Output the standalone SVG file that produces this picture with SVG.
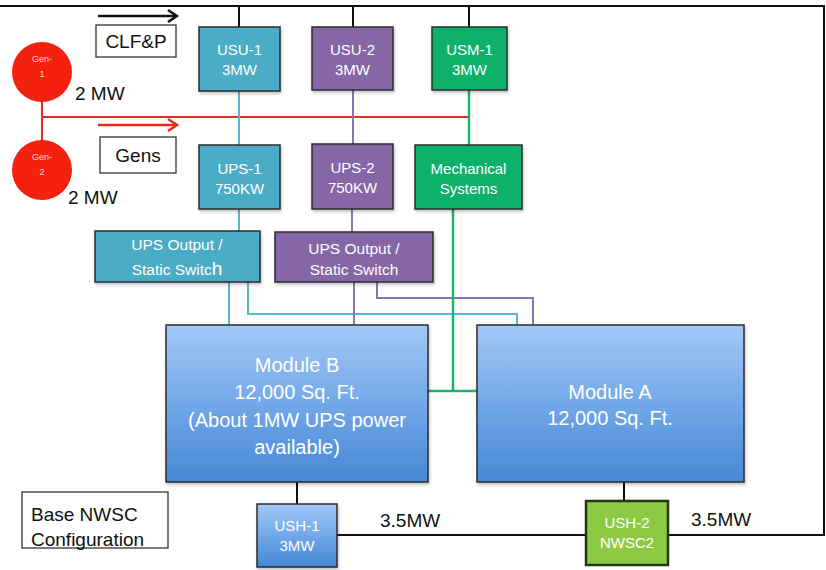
<svg xmlns="http://www.w3.org/2000/svg" width="826" height="570" viewBox="0 0 826 570">
<defs>
<linearGradient id="blueGrad" x1="0" y1="0" x2="0" y2="1">
<stop offset="0" stop-color="#a3c8f6"/>
<stop offset="0.5" stop-color="#72a8e8"/>
<stop offset="1" stop-color="#4787d4"/>
</linearGradient>
<filter id="sh" x="-10%" y="-10%" width="130%" height="130%">
<feDropShadow dx="1" dy="2" stdDeviation="1.5" flood-color="#000" flood-opacity="0.25"/>
</filter>
</defs>
<style>
.box{stroke:#2d2d2d;stroke-width:1.5;filter:url(#sh)}
.teal{fill:#4bacc6}
.purple{fill:#8566a6}
.green{fill:#0bb16a}
.mod{fill:url(#blueGrad)}
.lime{fill:#8ec944;stroke:#1f3a10;stroke-width:2.5}
.wt{fill:#ffffff;font-family:"Liberation Sans",Arial,sans-serif;font-size:15px;text-anchor:middle}
.ut{fill:#ffffff;font-family:"Liberation Sans",Arial,sans-serif;font-size:15.5px;text-anchor:middle}
.mt{fill:#ffffff;font-family:"Liberation Sans",Arial,sans-serif;font-size:20px;text-anchor:middle}
.bt{fill:#111;font-family:"Liberation Sans",Arial,sans-serif;font-size:19px}
.lbl{fill:#fff;stroke:#333;stroke-width:1.3}
.blk{stroke:#111;stroke-width:2;fill:none}
.tl{stroke:#5bb7cf;stroke-width:2;fill:none}
.pl{stroke:#8d73b0;stroke-width:2;fill:none}
.gl{stroke:#1bb36a;stroke-width:2.5;fill:none}
.rl{stroke:#ea2a1f;stroke-width:2;fill:none}
.gen{fill:#f5210f}
.gt{fill:#ffd9d0;font-family:"Liberation Sans",Arial,sans-serif;font-size:9px;text-anchor:middle}
</style>

<g id="connectors">
<polyline class="blk" points="0,6 824,6 824,535 668,535"/>
<line class="blk" x1="586" y1="535" x2="337" y2="535"/>
<line class="blk" x1="239" y1="6" x2="239" y2="27"/>
<line class="blk" x1="353" y1="6" x2="353" y2="27"/>
<line class="blk" x1="469" y1="6" x2="469" y2="27"/>
<line class="rl" x1="42" y1="102" x2="42" y2="140"/>
<line class="rl" x1="42" y1="117" x2="469" y2="117"/>
<line stroke="#111" stroke-width="2.5" x1="98" y1="16" x2="176" y2="16"/>
<polyline stroke="#111" stroke-width="2.5" fill="none" points="168,10 177,16 168,22"/>
<line stroke="#ea2a1f" stroke-width="2.5" x1="98" y1="125" x2="176" y2="125"/>
<polyline stroke="#ea2a1f" stroke-width="2.5" fill="none" points="168,119 177,125 168,131"/>
<line class="tl" x1="239" y1="91" x2="239" y2="145"/>
<line class="tl" x1="239" y1="209" x2="239" y2="231"/>
<line class="tl" x1="229" y1="282" x2="229" y2="325"/>
<polyline class="tl" points="248,282 248,314 517,314 517,325"/>
<line class="pl" x1="353" y1="90" x2="353" y2="144"/>
<line class="pl" x1="352" y1="209" x2="352" y2="232"/>
<line class="pl" x1="354" y1="282" x2="354" y2="325"/>
<polyline class="pl" points="377,282 377,298 533,298 533,325"/>
<line class="gl" x1="469" y1="90" x2="469" y2="145"/>
<line class="gl" x1="453" y1="209" x2="453" y2="391"/>
<line class="gl" x1="428" y1="391" x2="477" y2="391"/>
<line class="blk" x1="297" y1="482" x2="297" y2="504"/>
<line class="blk" x1="624" y1="482" x2="624" y2="501"/>
</g>

<g id="gen1">
<circle class="gen" cx="42" cy="72" r="30"/>
<text class="gt" x="42" y="62">Gen-</text>
<text class="gt" x="42" y="77">1</text>
</g>
<g id="gen2">
<circle class="gen" cx="42" cy="170" r="30"/>
<text class="gt" x="42" y="160">Gen-</text>
<text class="gt" x="42" y="175">2</text>
</g>
<text class="bt" x="75" y="100">2 MW</text>
<text class="bt" x="68" y="204">2 MW</text>

<g id="clfp">
<rect class="lbl" x="96" y="25" width="80" height="32"/>
<text class="bt" x="136" y="48" text-anchor="middle">CLF&amp;P</text>
</g>
<g id="gens">
<rect class="lbl" x="100" y="137" width="76" height="36"/>
<text class="bt" x="138" y="162" text-anchor="middle">Gens</text>
</g>

<g id="usu1">
<rect class="box teal" x="199" y="27" width="81" height="64"/>
<text class="wt" x="239.5" y="55">USU-1</text>
<text class="wt" x="239.5" y="75">3MW</text>
</g>
<g id="usu2">
<rect class="box purple" x="312" y="27" width="81" height="63"/>
<text class="wt" x="352.5" y="55">USU-2</text>
<text class="wt" x="352.5" y="75">3MW</text>
</g>
<g id="usm1">
<rect class="box green" x="432" y="27" width="75" height="63"/>
<text class="wt" x="469.5" y="55">USM-1</text>
<text class="wt" x="469.5" y="75">3MW</text>
</g>

<g id="ups1">
<rect class="box teal" x="199" y="145" width="81" height="64"/>
<text class="wt" x="239.5" y="174">UPS-1</text>
<text class="wt" x="239.5" y="194">750KW</text>
</g>
<g id="ups2">
<rect class="box purple" x="312" y="144" width="81" height="65"/>
<text class="wt" x="352.5" y="173">UPS-2</text>
<text class="wt" x="352.5" y="193">750KW</text>
</g>
<g id="mech">
<rect class="box green" x="415" y="145" width="107" height="64"/>
<text class="wt" x="468.5" y="174">Mechanical</text>
<text class="wt" x="468.5" y="194">Systems</text>
</g>

<g id="upsout1">
<rect class="box teal" x="95" y="231" width="165" height="51"/>
<text class="ut" x="177" y="250">UPS Output /</text>
<text class="ut" x="177" y="275">Static Switc<tspan font-size="19px">h</tspan></text>
</g>
<g id="upsout2">
<rect class="box purple" x="275" y="232" width="158" height="50"/>
<text class="ut" x="354" y="254">UPS Output /</text>
<text class="ut" x="354" y="275">Static Switch</text>
</g>

<g id="moduleB">
<rect class="box mod" x="166" y="325" width="262" height="157"/>
<text class="mt" x="297" y="372">Module B</text>
<text class="mt" x="297" y="399">12,000 Sq. Ft.</text>
<text class="mt" x="297" y="427">(About 1MW UPS power</text>
<text class="mt" x="297" y="454">available)</text>
</g>
<g id="moduleA">
<rect class="box mod" x="477" y="325" width="267" height="157"/>
<text class="mt" x="610" y="399">Module A</text>
<text class="mt" x="610" y="425">12,000 Sq. Ft.</text>
</g>

<g id="ush1">
<rect class="box mod" x="257" y="504" width="80" height="63"/>
<text class="wt" x="297" y="531">USH-1</text>
<text class="wt" x="297" y="551">3MW</text>
</g>
<g id="ush2">
<rect class="lime" x="586" y="501" width="82" height="64"/>
<text class="wt" x="627" y="528">USH-2</text>
<text class="wt" x="627" y="548">NWSC2</text>
</g>
<text class="bt" x="380" y="527">3.5MW</text>
<text class="bt" x="691" y="526">3.5MW</text>

<g id="base">
<rect class="lbl" x="22" y="492" width="146" height="56"/>
<text class="bt" x="31" y="521">Base NWSC</text>
<text class="bt" x="31" y="546">Configuration</text>
</g>
</svg>
